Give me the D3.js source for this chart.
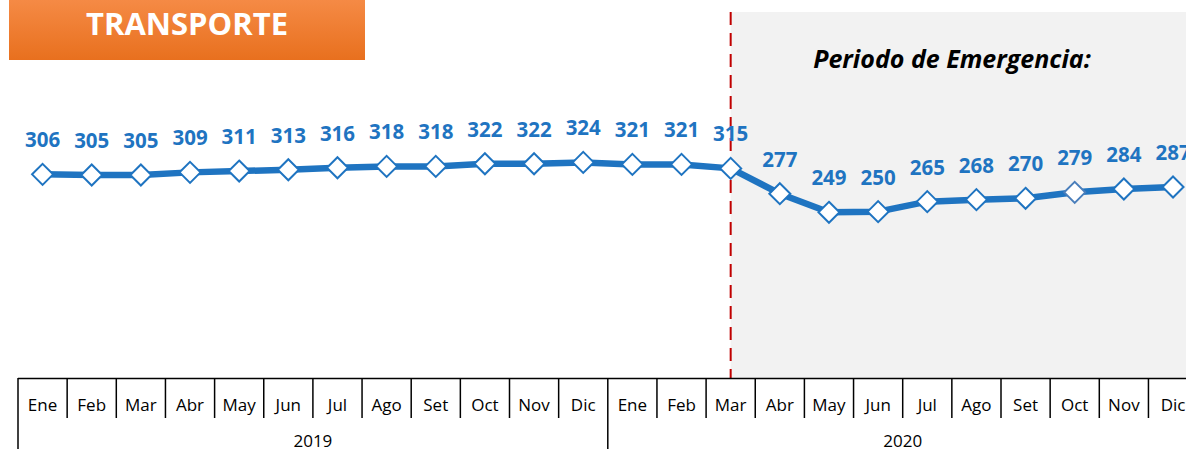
<!DOCTYPE html>
<html><head><meta charset="utf-8">
<script src="https://cdn.jsdelivr.net/npm/d3@7"></script>
<style>body{margin:0;background:#fff;}svg{display:block;}</style>
</head><body>
<svg id="c" width="1186" height="449"></svg>
<script>
const months = ["Ene","Feb","Mar","Abr","May","Jun","Jul","Ago","Set","Oct","Nov","Dic"];
const years = ["2019","2020"];
const values2019 = [306,305,305,309,311,313,316,318,318,322,322,324];
const values2020 = [321,321,315,277,249,250,265,268,270,279,284,287];
const emergencyStart = "2020-Mar";
const titleText = "TRANSPORTE";
const periodText = "Periodo de Emergencia:";

const data = [];
years.forEach((y, yi) => months.forEach((m, mi) => {
  data.push({key: y + "-" + m, month: m, year: y, value: (yi === 0 ? values2019 : values2020)[mi]});
}));

const svg = d3.select("#c");
const W = 1186, H = 449;
const x0 = 18, step = 49.15;
const x = d3.scaleBand().domain(data.map(d => d.key)).range([x0, x0 + step * data.length]).padding(0);
const y = d3.scaleLinear().domain([0, 550]).range([378, 12]);
const cx = k => x(k) + x.bandwidth() / 2;

const blue = "#1F74C1";
const font = "'Open Sans', 'Noto Sans', sans-serif";

const defs = svg.append("defs");
const g1 = defs.append("linearGradient").attr("id", "og").attr("x1", 0).attr("y1", 0).attr("x2", 0).attr("y2", 1);
g1.append("stop").attr("offset", "0%").attr("stop-color", "#F58A45");
g1.append("stop").attr("offset", "100%").attr("stop-color", "#E8701E");

const xs = cx(emergencyStart);
svg.append("rect").attr("x", xs).attr("y", y(550)).attr("width", W - xs).attr("height", y(0) - y(550)).attr("fill", "#F2F2F2");

svg.append("line").attr("x1", xs).attr("x2", xs).attr("y1", y(550)).attr("y2", y(0))
  .attr("stroke", "#C00000").attr("stroke-width", 2).attr("stroke-dasharray", "13,8");

svg.append("text").attr("x", 952).attr("y", 68).attr("text-anchor", "middle")
  .attr("font-family", font).attr("font-weight", "bold").attr("font-style", "italic")
  .attr("font-size", 25).attr("fill", "#000").text(periodText);

svg.append("rect").attr("x", 9).attr("y", 0).attr("width", 356).attr("height", 60).attr("fill", "url(#og)");
svg.append("text").attr("x", 187).attr("y", 35).attr("text-anchor", "middle")
  .attr("font-family", font).attr("font-weight", "bold").attr("font-size", 31).attr("fill", "#fff").text(titleText);

const line = d3.line().x(d => cx(d.key)).y(d => y(d.value));
svg.append("path").datum(data).attr("d", line).attr("fill", "none")
  .attr("stroke", blue).attr("stroke-width", 6.5).attr("stroke-linejoin", "round");

const r = 10.5;
svg.selectAll("path.mk").data(data).enter().append("path").attr("class", "mk")
  .attr("d", d => `M${cx(d.key)},${y(d.value) - r}L${cx(d.key) + r},${y(d.value)}L${cx(d.key)},${y(d.value) + r}L${cx(d.key) - r},${y(d.value)}Z`)
  .attr("fill", "#fff").attr("stroke", d => d.key === "2020-Oct" ? "#4A7EBB" : blue).attr("stroke-width", 2);

svg.selectAll("text.lb").data(data).enter().append("text").attr("class", "lb")
  .attr("x", d => cx(d.key)).attr("y", d => y(d.value) - 27).attr("text-anchor", "middle")
  .attr("font-family", font).attr("font-weight", "bold").attr("font-size", 20.5).attr("fill", blue)
  .text(d => d.value);

const ax = svg.append("g");
ax.append("line").attr("x1", x0).attr("x2", W).attr("y1", 378.5).attr("y2", 378.5).attr("stroke", "#000").attr("stroke-width", 1.5);
data.forEach((d, i) => {
  const xl = x(d.key);
  const yearStart = i % 12 === 0;
  ax.append("line").attr("x1", xl).attr("x2", xl).attr("y1", 378).attr("y2", yearStart ? H : 418)
    .attr("stroke", "#000").attr("stroke-width", 1.5);
  ax.append("text").attr("x", cx(d.key)).attr("y", 411).attr("text-anchor", "middle")
    .attr("font-family", font).attr("font-size", 17).attr("fill", "#000").text(d.month);
});
years.forEach((yr) => {
  const a = x(yr + "-" + months[0]);
  const b = x(yr + "-" + months[11]) + x.bandwidth();
  ax.append("text").attr("x", (a + b) / 2).attr("y", 447).attr("text-anchor", "middle")
    .attr("font-family", font).attr("font-size", 17).attr("fill", "#000").text(yr);
});
</script>
</body></html>
